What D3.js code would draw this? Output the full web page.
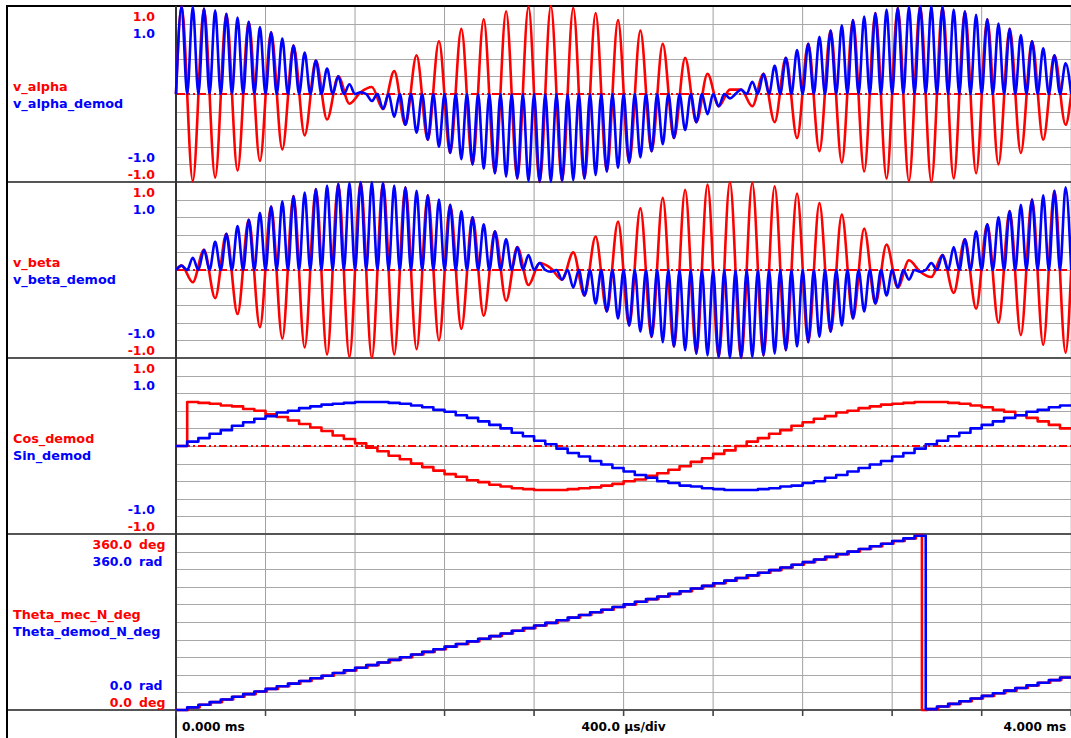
<!DOCTYPE html>
<html>
<head>
<meta charset="utf-8">
<script src="https://cdn.jsdelivr.net/npm/d3@7/dist/d3.min.js"></script>
<style>
  body { margin: 0; background: #fff; }
  text { font-family: "DejaVu Sans", Verdana, sans-serif; font-weight: bold; }
</style>
</head>
<body>
<svg id="chart"></svg>
<script>
const width = 1071;
const height = 738;

// time axis, ms
const timeRange = [0, 4];
const timeLabels = ["0.000 ms", "400.0 \u00b5s/div", "4.000 ms"];

// carrier extrema, one every half period of the excitation (first at 0.025 ms)
const carrierStart = 0.025;
const carrierHalfPeriod = 0.05;
const vAlpha = [1.00, -0.99, 0.97, -0.95, 0.91, -0.87, 0.82, -0.76, 0.70, -0.63,
  0.55, -0.47, 0.38, -0.29, 0.20, -0.11, 0.02, 0.08, -0.17, 0.26,
  -0.35, 0.44, -0.52, 0.60, -0.67, 0.74, -0.80, 0.85, -0.90, 0.94,
  -0.96, 0.99, -1.00, 1.00, -0.99, 0.98, -0.96, 0.92, -0.88, 0.84,
  -0.78, 0.72, -0.65, 0.57, -0.50, 0.41, -0.32, 0.23, -0.14, 0.05,
  0.05, -0.14, 0.23, -0.32, 0.41, -0.50, 0.57, -0.65, 0.72, -0.78,
  0.84, -0.88, 0.92, -0.96, 0.98, -0.99, 1.00, -1.00, 0.99, -0.96,
  0.94, -0.90, 0.85, -0.80, 0.74, -0.67, 0.60, -0.52, 0.44, -0.35];
const vAlphaDemod = [1.00, 0.99, 0.97, 0.95, 0.91, 0.87, 0.82, 0.76, 0.70, 0.63,
  0.55, 0.47, 0.38, 0.29, 0.20, 0.11, 0.02, -0.08, -0.17, -0.26,
  -0.35, -0.44, -0.52, -0.60, -0.67, -0.74, -0.80, -0.85, -0.90, -0.94,
  -0.96, -0.99, -1.00, -1.00, -0.99, -0.98, -0.96, -0.92, -0.88, -0.84,
  -0.78, -0.72, -0.65, -0.57, -0.50, -0.41, -0.32, -0.23, -0.14, -0.05,
  0.05, 0.14, 0.23, 0.32, 0.41, 0.50, 0.57, 0.65, 0.72, 0.78,
  0.84, 0.88, 0.92, 0.96, 0.98, 0.99, 1.00, 1.00, 0.99, 0.96,
  0.94, 0.90, 0.85, 0.80, 0.74, 0.67, 0.60, 0.52, 0.44, 0.35];
const vBeta = [0.05, -0.14, 0.23, -0.32, 0.41, -0.50, 0.57, -0.65, 0.72, -0.78,
  0.84, -0.88, 0.92, -0.96, 0.98, -0.99, 1.00, -1.00, 0.99, -0.96,
  0.94, -0.90, 0.85, -0.80, 0.74, -0.67, 0.60, -0.52, 0.44, -0.35,
  0.26, -0.17, 0.08, 0.02, -0.11, 0.20, -0.29, 0.38, -0.47, 0.55,
  -0.63, 0.70, -0.76, 0.82, -0.87, 0.91, -0.95, 0.97, -0.99, 1.00,
  -1.00, 0.99, -0.97, 0.95, -0.91, 0.87, -0.82, 0.76, -0.70, 0.63,
  -0.55, 0.47, -0.38, 0.29, -0.20, 0.11, -0.02, -0.08, 0.17, -0.26,
  0.35, -0.44, 0.52, -0.60, 0.67, -0.74, 0.80, -0.85, 0.90, -0.94];
const vBetaDemod = [0.05, 0.14, 0.23, 0.32, 0.41, 0.50, 0.57, 0.65, 0.72, 0.78,
  0.84, 0.88, 0.92, 0.96, 0.98, 0.99, 1.00, 1.00, 0.99, 0.96,
  0.94, 0.90, 0.85, 0.80, 0.74, 0.67, 0.60, 0.52, 0.44, 0.35,
  0.26, 0.17, 0.08, -0.02, -0.11, -0.20, -0.29, -0.38, -0.47, -0.55,
  -0.63, -0.70, -0.76, -0.82, -0.87, -0.91, -0.95, -0.97, -0.99, -1.00,
  -1.00, -0.99, -0.97, -0.95, -0.91, -0.87, -0.82, -0.76, -0.70, -0.63,
  -0.55, -0.47, -0.38, -0.29, -0.20, -0.11, -0.02, 0.08, 0.17, 0.26,
  0.35, 0.44, 0.52, 0.60, 0.67, 0.74, 0.80, 0.85, 0.90, 0.94];

// demodulator outputs, held for 50 us each
const demodStep = 0.05;
const cosDemod = [0, 0.50, 0.49, 0.48, 0.46, 0.45, 0.42, 0.40, 0.36, 0.33, 0.29,
  0.25, 0.21, 0.17, 0.12, 0.08, 0.03, -0.02, -0.06, -0.11, -0.15,
  -0.20, -0.24, -0.28, -0.32, -0.35, -0.39, -0.41, -0.44, -0.46, -0.48,
  -0.49, -0.50, -0.50, -0.50, -0.49, -0.48, -0.47, -0.45, -0.43, -0.40,
  -0.38, -0.34, -0.31, -0.27, -0.23, -0.18, -0.14, -0.09, -0.05, 0.00,
  0.05, 0.09, 0.14, 0.18, 0.23, 0.27, 0.31, 0.34, 0.38, 0.40,
  0.43, 0.45, 0.47, 0.48, 0.49, 0.50, 0.50, 0.50, 0.49, 0.48,
  0.46, 0.44, 0.41, 0.39, 0.35, 0.32, 0.28, 0.24, 0.20];
const sinDemod = [0, 0.05, 0.09, 0.14, 0.18, 0.23, 0.27, 0.31, 0.34, 0.38, 0.40,
  0.43, 0.45, 0.47, 0.48, 0.49, 0.50, 0.50, 0.50, 0.49, 0.48,
  0.46, 0.44, 0.41, 0.39, 0.35, 0.32, 0.28, 0.24, 0.20, 0.15,
  0.11, 0.06, 0.02, -0.03, -0.08, -0.12, -0.17, -0.21, -0.25, -0.29,
  -0.33, -0.36, -0.40, -0.42, -0.45, -0.46, -0.48, -0.49, -0.50, -0.50,
  -0.50, -0.49, -0.48, -0.46, -0.45, -0.42, -0.40, -0.36, -0.33, -0.29,
  -0.25, -0.21, -0.17, -0.12, -0.08, -0.03, 0.02, 0.06, 0.11, 0.15,
  0.20, 0.24, 0.28, 0.32, 0.35, 0.39, 0.41, 0.44, 0.46];
const thetaDemod = [0, 5.4, 10.8, 16.2, 21.6, 27, 32.4, 37.8, 43.2, 48.6,
  54, 59.4, 64.8, 70.2, 75.6, 81, 86.4, 91.8, 97.2, 102.6,
  108, 113.4, 118.8, 124.2, 129.6, 135, 140.4, 145.8, 151.2, 156.6,
  162, 167.4, 172.8, 178.2, 183.6, 189, 194.4, 199.8, 205.2, 210.6,
  216, 221.4, 226.8, 232.2, 237.6, 243, 248.4, 253.8, 259.2, 264.6,
  270, 275.4, 280.8, 286.2, 291.6, 297, 302.4, 307.8, 313.2, 318.6,
  324, 329.4, 334.8, 340.2, 345.6, 351, 356.4, 1.8, 7.2, 12.6,
  18, 23.4, 28.8, 34.2, 39.6, 45, 50.4, 55.8, 61.2, 66.6];

// mechanical angle, sampled on the same 50 us grid (slightly later), wraps at 3.333 ms
const thetaMecDelay = 0.006;
const thetaMecWrap = 3.333;
const thetaMec = [0, 5.4, 10.8, 16.2, 21.6, 27, 32.4, 37.8, 43.2, 48.6,
  54, 59.4, 64.8, 70.2, 75.6, 81, 86.4, 91.8, 97.2, 102.6,
  108, 113.4, 118.8, 124.2, 129.6, 135, 140.4, 145.8, 151.2, 156.6,
  162, 167.4, 172.8, 178.2, 183.6, 189, 194.4, 199.8, 205.2, 210.6,
  216, 221.4, 226.8, 232.2, 237.6, 243, 248.4, 253.8, 259.2, 264.6,
  270, 275.4, 280.8, 286.2, 291.6, 297, 302.4, 307.8, 313.2, 318.6,
  324, 329.4, 334.8, 340.2, 345.6, 351, 358, 1.8, 7.2, 12.6,
  18, 23.4, 28.8, 34.2, 39.6, 45, 50.4, 55.8, 61.2, 66.6];

// panel texts
const traceNames = [
  ["v_alpha", "v_alpha_demod"],
  ["v_beta", "v_beta_demod"],
  ["Cos_demod", "Sin_demod"],
  ["Theta_mec_N_deg", "Theta_demod_N_deg"]
];
const panelDomains = [[-1, 1], [-1, 1], [-1, 1], [0, 360]];
const maxLabels = [["1.0", "1.0"], ["1.0", "1.0"], ["1.0", "1.0"], ["360.0", "360.0"]];
const minLabels = [["-1.0", "-1.0"], ["-1.0", "-1.0"], ["-1.0", "-1.0"], ["0.0", "0.0"]];
const unitLabels = [null, null, null, ["deg", "rad"]];

const RED = "#ff0000";
const BLUE = "#0000ff";
const plotLeft = 176;
const plotRight = 1071.2;
const panelTop0 = 6;
const panelH = 176;
const frameLeft = 7;

const svg = d3.select("#chart")
  .attr("width", width)
  .attr("height", height);

const x = d3.scaleLinear().domain(timeRange).range([plotLeft, plotRight]);
const panelTops = traceNames.map((d, i) => panelTop0 + i * panelH);
const yScales = panelDomains.map((dom, i) =>
  d3.scaleLinear().domain(dom).range([panelTops[i] + panelH, panelTops[i]]));
const bottom = panelTop0 + 4 * panelH;

// grid
const grid = svg.append("g");
const xGrid = d3.range(11).map(i => timeRange[0] + i * (timeRange[1] - timeRange[0]) / 10);
grid.selectAll("line.v")
  .data(xGrid)
  .enter()
  .append("line")
  .attr("x1", d => x(d)).attr("x2", d => x(d))
  .attr("y1", panelTop0).attr("y2", bottom + 6)
  .attr("stroke", "#a0a0a0")
  .attr("stroke-width", 1);

yScales.forEach((y, i) => {
  const dom = panelDomains[i];
  const ticks = d3.range(1, 10).map(k => dom[0] + k * (dom[1] - dom[0]) / 10);
  grid.selectAll(null)
    .data(ticks)
    .enter()
    .append("line")
    .attr("x1", plotLeft).attr("x2", width)
    .attr("y1", d => Math.round(y(d)) + 0.5).attr("y2", d => Math.round(y(d)) + 0.5)
    .attr("stroke", "#a8a8a8")
    .attr("stroke-width", 1);
});

// frame
const frame = svg.append("g");
panelTops.slice(1).concat([bottom]).forEach(t => {
  frame.append("line")
    .attr("x1", frameLeft).attr("x2", width)
    .attr("y1", t).attr("y2", t)
    .attr("stroke", "#555")
    .attr("stroke-width", 2);
});
frame.append("line")
  .attr("x1", frameLeft).attr("x2", width)
  .attr("y1", panelTop0).attr("y2", panelTop0)
  .attr("stroke", "#000").attr("stroke-width", 2);
frame.append("line")
  .attr("x1", frameLeft).attr("x2", frameLeft)
  .attr("y1", panelTop0 - 1).attr("y2", height)
  .attr("stroke", "#000").attr("stroke-width", 2);
frame.append("line")
  .attr("x1", plotLeft).attr("x2", plotLeft)
  .attr("y1", panelTop0).attr("y2", height)
  .attr("stroke", "#333").attr("stroke-width", 2);

// zero reference (red dash-dot-dot) on the three signal panels
[0, 1, 2].forEach(i => {
  svg.append("line")
    .attr("x1", plotLeft + 1).attr("x2", width)
    .attr("y1", yScales[i](0)).attr("y2", yScales[i](0))
    .attr("stroke", RED)
    .attr("stroke-width", 2)
    .attr("stroke-dasharray", "8,3,2,3,2,3");
});

// helpers to turn the arrays into point lists
const extremaPoints = vals => [[timeRange[0], 0]]
  .concat(vals.map((v, k) => [carrierStart + k * carrierHalfPeriod, v]))
  .concat([[timeRange[1], 0]]);
// demodulated carrier falls back to zero between its humps
const humpPoints = vals => {
  const pts = [];
  vals.forEach((v, k) => {
    const t = carrierStart + k * carrierHalfPeriod;
    pts.push([t - carrierHalfPeriod / 2, 0]);
    pts.push([t, v]);
  });
  pts.push([timeRange[1], 0]);
  return pts;
};
const stepPoints = (vals, delay = 0) => vals.map((v, j) => [j * demodStep + (j ? delay : 0), v])
  .concat([[timeRange[1], vals[vals.length - 1]]]);
const mecPoints = stepPoints(thetaMec, thetaMecDelay);
const wrapAt = mecPoints.findIndex(p => p[0] > thetaMecWrap);
mecPoints.splice(wrapAt, 0, [thetaMecWrap, 0]);

function drawTrace(i, pts, color, curve) {
  const y = yScales[i];
  const line = d3.line()
    .x(d => x(d[0]))
    .y(d => y(d[1]))
    .curve(curve);
  svg.append("path")
    .datum(pts)
    .attr("d", line)
    .attr("fill", "none")
    .attr("stroke", color)
    .attr("stroke-width", 2.6)
    .attr("stroke-linejoin", "round");
}

drawTrace(0, extremaPoints(vAlpha), RED, d3.curveMonotoneX);
drawTrace(0, humpPoints(vAlphaDemod), BLUE, d3.curveMonotoneX);
drawTrace(1, extremaPoints(vBeta), RED, d3.curveMonotoneX);
drawTrace(1, humpPoints(vBetaDemod), BLUE, d3.curveMonotoneX);
drawTrace(2, stepPoints(cosDemod), RED, d3.curveStepAfter);
drawTrace(2, stepPoints(sinDemod), BLUE, d3.curveStepAfter);
drawTrace(3, mecPoints, RED, d3.curveStepAfter);
drawTrace(3, stepPoints(thetaDemod), BLUE, d3.curveStepAfter);

// labels
const labels = svg.append("g");
const numRight = [155, 155, 155, 132];
const lineOffsets = [15, 31.7, 85, 101.7, 156, 172.7];
panelTops.forEach((top, i) => {
  const put = (txt, xx, off, color, anchor, size) => labels.append("text")
    .attr("x", xx).attr("y", top + off)
    .attr("fill", color)
    .attr("font-size", size)
    .attr("text-anchor", anchor)
    .text(txt);
  put(maxLabels[i][0], numRight[i], lineOffsets[0], RED, "end", "12.5px");
  put(maxLabels[i][1], numRight[i], lineOffsets[1], BLUE, "end", "12.5px");
  put(traceNames[i][0], 13, lineOffsets[2], RED, "start", "12.8px");
  put(traceNames[i][1], 13, lineOffsets[3], BLUE, "start", "12.8px");
  put(minLabels[i][1], numRight[i], lineOffsets[4], BLUE, "end", "12.5px");
  put(minLabels[i][0], numRight[i], lineOffsets[5], RED, "end", "12.5px");
  if (unitLabels[i]) {
    put(unitLabels[i][0], 139, lineOffsets[0], RED, "start", "12.5px");
    put(unitLabels[i][1], 139, lineOffsets[1], BLUE, "start", "12.5px");
    put(unitLabels[i][1], 139, lineOffsets[4], BLUE, "start", "12.5px");
    put(unitLabels[i][0], 139, lineOffsets[5], RED, "start", "12.5px");
  }
});

// time axis strip
svg.append("g").selectAll("line")
  .data(xGrid)
  .enter()
  .append("line")
  .attr("x1", d => x(d)).attr("x2", d => x(d))
  .attr("y1", bottom).attr("y2", bottom + 6)
  .attr("stroke", "#444")
  .attr("stroke-width", 1.5);

const axisY = 731;
labels.append("text").attr("x", x(timeRange[0]) + 6).attr("y", axisY)
  .attr("font-size", "12.2px").attr("fill", "#000").attr("text-anchor", "start")
  .text(timeLabels[0]);
labels.append("text").attr("x", x((timeRange[0] + timeRange[1]) / 2)).attr("y", axisY)
  .attr("font-size", "12.2px").attr("fill", "#000").attr("text-anchor", "middle")
  .text(timeLabels[1]);
labels.append("text").attr("x", x(timeRange[1]) - 5).attr("y", axisY)
  .attr("font-size", "12.2px").attr("fill", "#000").attr("text-anchor", "end")
  .text(timeLabels[2]);
</script>
</body>
</html>
